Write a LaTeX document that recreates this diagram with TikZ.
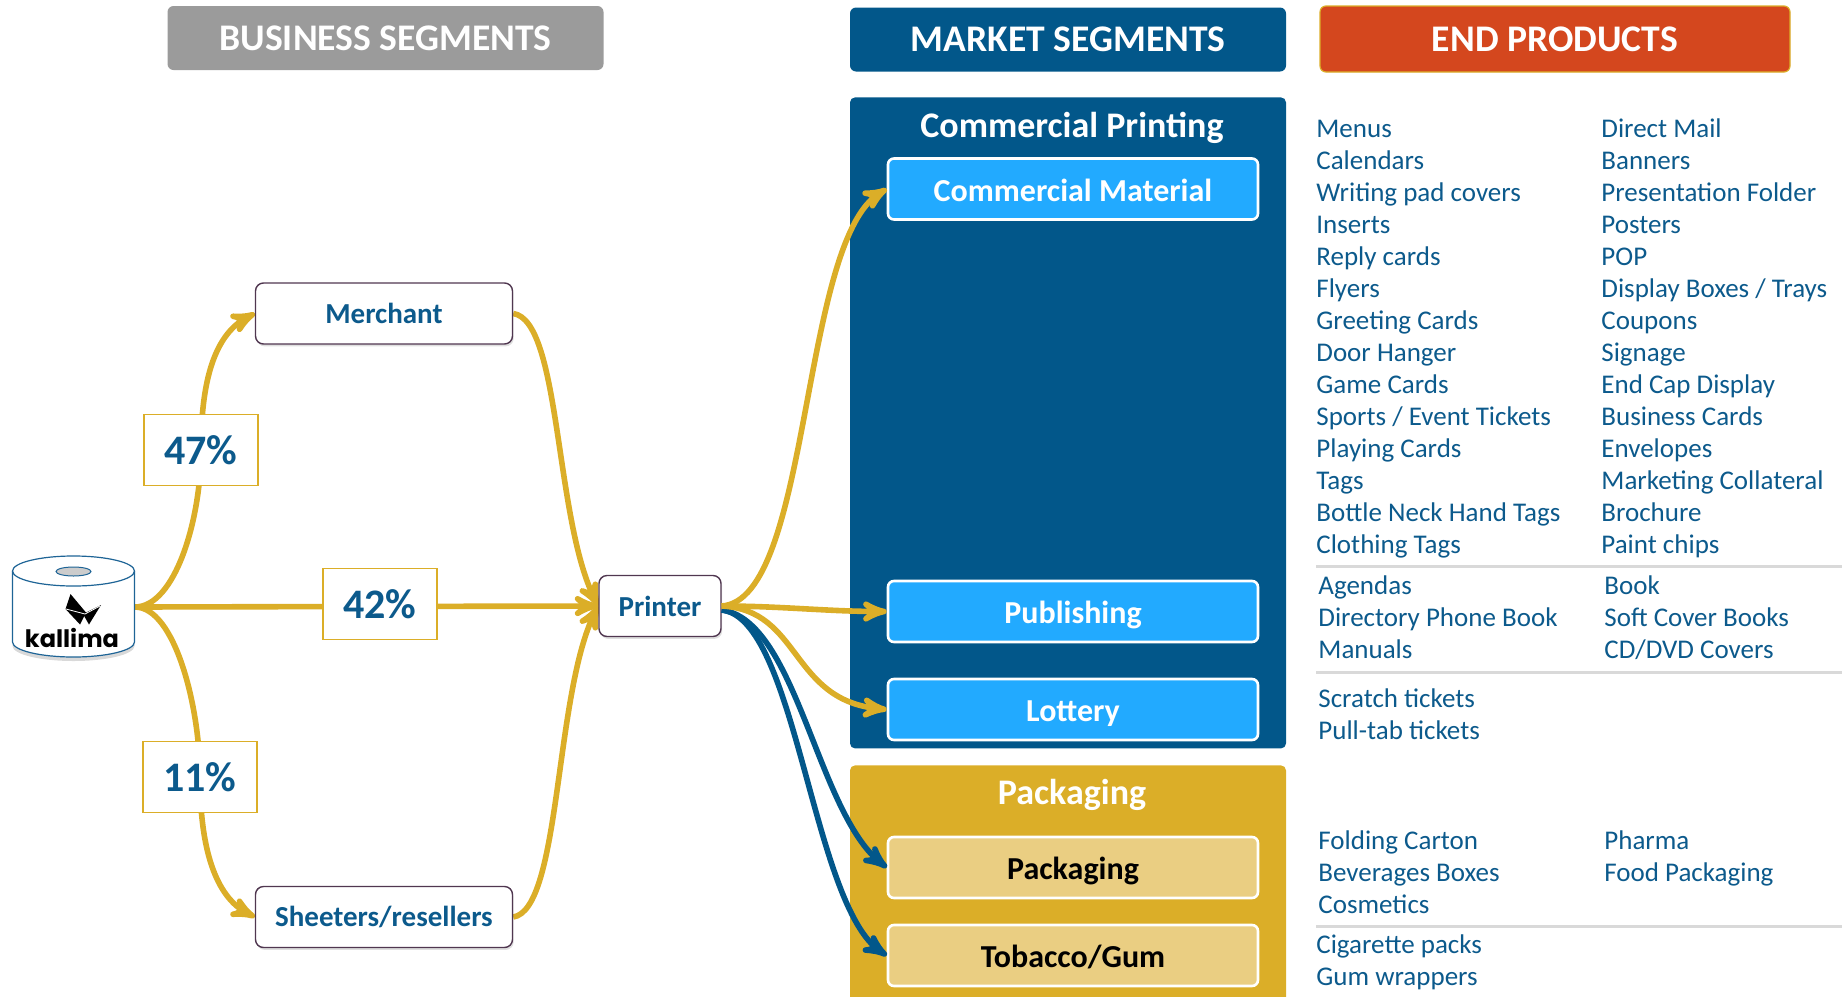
\documentclass[tikz,border=0pt]{standalone}
\usepackage{fontspec}
\setmainfont{Carlito}
\newfontfamily\logofont{Poppins}[BoldFont={Poppins Bold}]
\usepackage{tikz}
\usetikzlibrary{positioning,arrows,shadows,backgrounds}
\definecolor{segblue}{RGB}{2,87,138}
\definecolor{skyblue}{RGB}{34,170,255}
\definecolor{flowgold}{RGB}{219,174,40}
\definecolor{palegold}{RGB}{234,206,130}
\definecolor{headred}{RGB}{212,71,30}
\definecolor{headgrey}{RGB}{155,155,155}
\definecolor{boxline}{RGB}{80,55,80}
\definecolor{rulegrey}{RGB}{217,217,217}
\definecolor{itemblue}{RGB}{12,90,140}
\definecolor{rolledge}{RGB}{30,100,150}

\begin{document}
\begin{tikzpicture}[x=0.5pt,y=-0.5pt]
    \tikzstyle{header}=[rounded corners=3pt, text=white, font=\bfseries\fontsize{18.8}{22}\selectfont, minimum width=218pt, minimum height=32pt]
    \tikzstyle{segment}=[draw=boxline, fill=white, rounded corners=4pt, line width=0.7pt, text=itemblue, font=\bfseries\fontsize{14.5}{17}\selectfont, minimum height=30.5pt, drop shadow={shadow xshift=0.6pt, shadow yshift=-1.2pt, opacity=0.25}]
    \tikzstyle{share}=[draw=flowgold, fill=white, line width=0.9pt, text=itemblue, font=\bfseries\fontsize{21}{25}\selectfont, minimum width=57pt, minimum height=35.5pt]
    \tikzstyle{market}=[draw=white, fill=skyblue, line width=1.3pt, rounded corners=3pt, text=white, font=\bfseries\fontsize{16}{19}\selectfont, minimum width=185pt, minimum height=30.5pt, text height=12pt, text depth=0pt]
    \tikzstyle{pack}=[market, fill=palegold, text=black]
    \tikzstyle{paneltitle}=[text=white, font=\bfseries\fontsize{18}{22}\selectfont]
    \tikzstyle{item}=[anchor=base west, inner sep=0pt, text=itemblue, font=\fontsize{13.5}{16}\selectfont]
    \tikzstyle{flow}=[flowgold, line width=2.8pt, -stealth']
    \tikzstyle{flowblue}=[flow, segblue]

    \useasboundingbox (0,0) rectangle (1842,996);

    % column headers
    \node[header, fill=headgrey] (bizhead) at (385.5,38) {BUSINESS SEGMENTS};
    \node[header, fill=segblue] (mkthead) at (1068,39.5) {MARKET SEGMENTS};
    \node[header, fill=headred, draw=flowgold, line width=0.6pt, minimum width=235pt, minimum height=33pt] (endhead) at (1555,39) {END PRODUCTS};

    % market panels
    \node[fill=segblue, rounded corners=2.5pt, inner sep=0pt, minimum width=218pt, minimum height=325.5pt, anchor=north] (printing) at (1068,97) {};
    \node[paneltitle] (printtitle) at (1072,128) {Commercial Printing};
    \node[market] (cmat) at (1073,189) {Commercial Material};
    \node[market] (publ) at (1073,611.5) {Publishing};
    \node[market, on grid, below=49pt of publ] (lott) {Lottery};

    \node[fill=flowgold, rounded corners=2.5pt, inner sep=0pt, minimum width=218pt, minimum height=130pt, anchor=north] (packing) at (1068,765) {};
    \node[paneltitle] (packtitle) at (1072,795) {Packaging};
    \node[pack] (pack) at (1073,867.5) {Packaging};
    \node[pack, on grid, below=44pt of pack] (tob) {Tobacco/Gum};

    % paper roll with logo
    \node[inner sep=0pt, minimum width=61pt, minimum height=50.5pt] (roll) at (73.5,607) {};
    \draw[rolledge, line width=0.6pt, fill=white, drop shadow={opacity=0.3, shadow xshift=0pt, shadow yshift=-2pt}]
        (12.5,571) -- (12.5,642) arc[start angle=180, end angle=0, x radius=61, y radius=15]
        -- (134.5,571) arc[start angle=0, end angle=-180, x radius=61, y radius=15] -- cycle;
    \draw[rolledge, line width=0.6pt] (12.5,571) arc[start angle=180, end angle=0, x radius=61, y radius=15];
    \draw[rolledge, fill=black!20, line width=0.5pt] (73.5,571.5) ellipse [x radius=17.5, y radius=4.5];
    \fill[black] (70.5,594) -- (65.5,609) -- (80,624.5) -- (86,612.5) -- cycle;
    \fill[black] (83,614) -- (101,605) -- (89,624.5) -- cycle;
    \draw[white, line width=0.4pt] (66,609) -- (85,614) -- (100,606);
    \node[font=\logofont\bfseries\fontsize{12}{14}\selectfont, anchor=base, inner sep=0pt] (brand) at (72,647) {kallima};

    % business segments
    \node[segment, minimum width=128.5pt] (merchant) at (384,313.5) {Merchant};
    \node[segment, minimum width=128.5pt, on grid, below=301.75pt of merchant] (sheeters) {Sheeters/resellers};
    \node[segment, minimum width=61pt] (printer) at (660,606) {Printer};

    \node[share] (p47) at (201,450) {47\%};
    \node[share] (p42) at (380,604) {42\%};
    \node[share] (p11) at (200,777) {11\%};

    \begin{scope}[on background layer]
        \draw[flow] (roll.east) .. controls +(40,0) and +(0,70) .. (p47.center) .. controls +(0,-70) and +(-40,20) .. (merchant.west);
        \draw[flow] (roll.east) -- (printer.west);
        \draw[flow] (roll.east) .. controls +(40,0) and +(0,-70) .. (p11.center) .. controls +(0,70) and +(-40,-20) .. (sheeters.west);
        \draw[flow] (merchant.east) .. controls +(48,7) and +(-44,-86) .. (printer.west);
        \draw[flow] (sheeters.east) .. controls +(48,-7) and +(-44,86) .. (printer.west);
    \end{scope}

    \draw[flowblue] ([yshift=-2pt]printer.east) .. controls +(75,10) and +(-70,-55) .. (pack.west);
    \draw[flowblue] ([yshift=-2pt]printer.east) .. controls +(75,8) and +(-75,-50) .. (tob.west);
    \draw[flow] (printer.east) .. controls +(90,-6) and +(-87,51) .. (cmat.west);
    \draw[flow] (printer.east) .. controls +(60,0) and +(-60,0) .. (publ.west);
    \draw[flow] (printer.east) .. controls +(80,4) and +(-97,-9) .. (lott.west);

    % end products
    \foreach \name [count=\i from 0] in {Menus, Calendars, Writing pad covers, Inserts, Reply cards, Flyers, Greeting Cards, Door Hanger, Game Cards, Sports / Event Tickets, Playing Cards, Tags, Bottle Neck Hand Tags, Clothing Tags}
        \node[item] (cpa-\i) at (1316,137+32*\i) {\name};
    \foreach \name [count=\i from 0] in {Direct Mail, Banners, Presentation Folder, Posters, POP, Display Boxes / Trays, Coupons, Signage, End Cap Display, Business Cards, Envelopes, Marketing Collateral, Brochure, Paint chips}
        \node[item] (cpb-\i) at (1601,137+32*\i) {\name};
    \draw[rulegrey, line width=1.5pt] (1316,566) -- (1842,566);

    \foreach \name [count=\i from 0] in {Agendas, Directory Phone Book, Manuals}
        \node[item] (pua-\i) at (1318,594+32*\i) {\name};
    \foreach \name [count=\i from 0] in {Book, Soft Cover Books, CD/DVD Covers}
        \node[item] (pub-\i) at (1604,594+32*\i) {\name};
    \draw[rulegrey, line width=1.5pt] (1316,672) -- (1842,672);

    \foreach \name [count=\i from 0] in {Scratch tickets, Pull-tab tickets}
        \node[item] (lot-\i) at (1318,707+32*\i) {\name};

    \foreach \name [count=\i from 0] in {Folding Carton, Beverages Boxes, Cosmetics}
        \node[item] (pka-\i) at (1318,849+32*\i) {\name};
    \foreach \name [count=\i from 0] in {Pharma, Food Packaging}
        \node[item] (pkb-\i) at (1604,849+32*\i) {\name};
    \draw[rulegrey, line width=1.5pt] (1316,926) -- (1842,926);

    \foreach \name [count=\i from 0] in {Cigarette packs, Gum wrappers}
        \node[item] (tob-\i) at (1316,953+32*\i) {\name};
\end{tikzpicture}
\end{document}
